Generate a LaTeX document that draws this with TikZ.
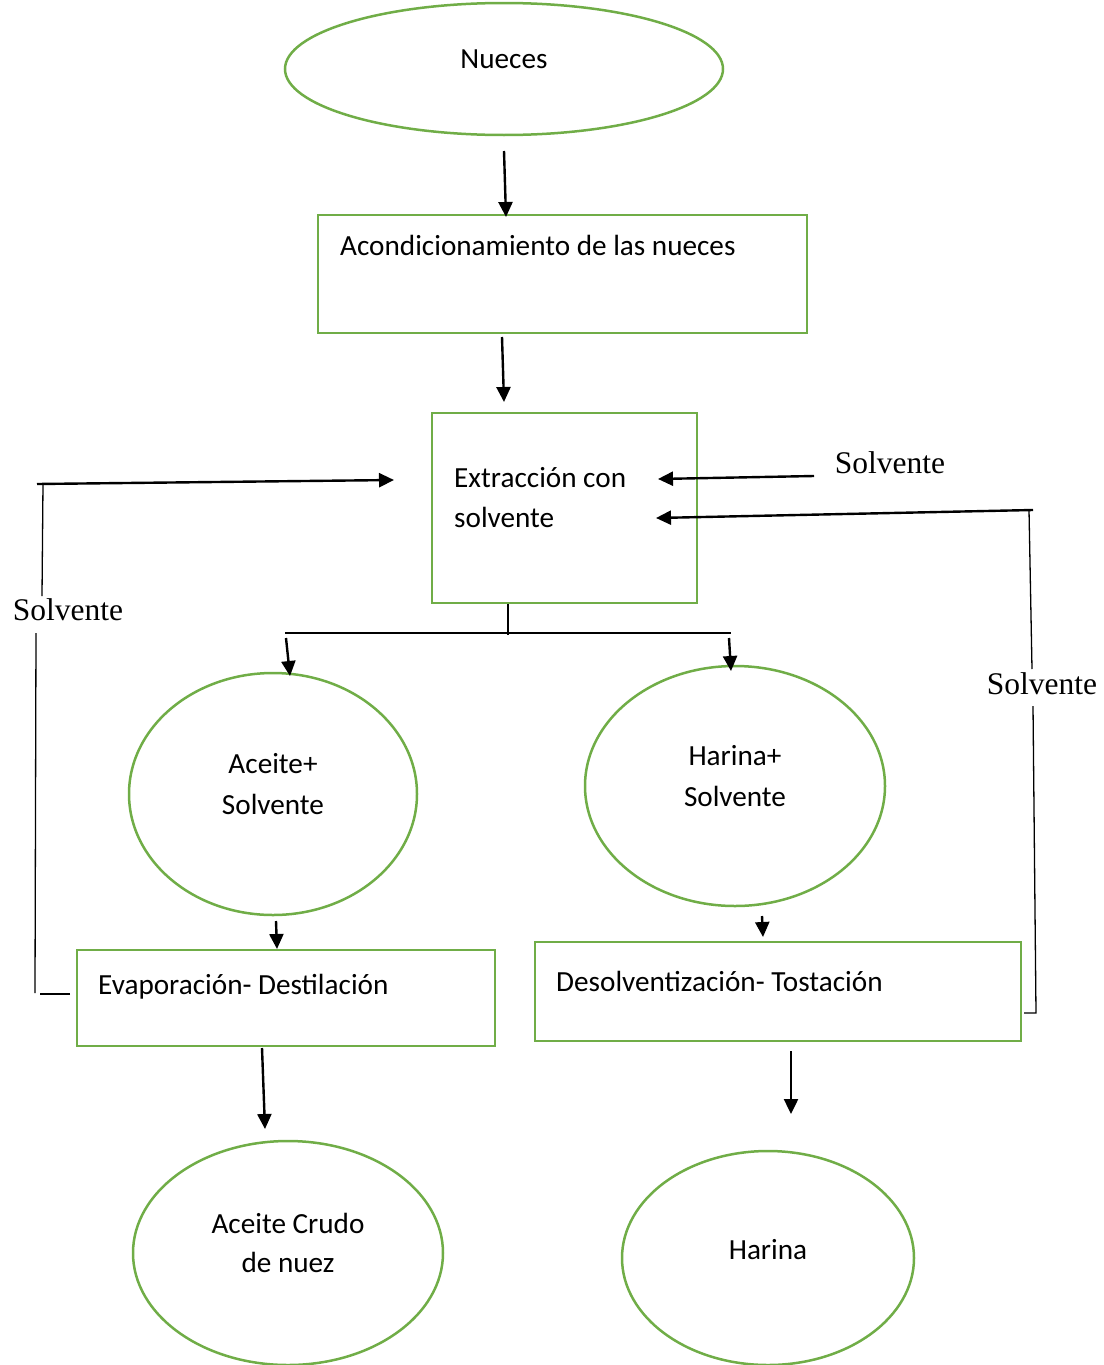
\documentclass[tikz,border=0pt]{standalone}
\usepackage{fontspec}
\setmainfont{Carlito}
\newfontfamily\serifl{Liberation Serif}
\usetikzlibrary{shapes.geometric,arrows.meta}
\definecolor{gr}{HTML}{70AD47}
\begin{document}
\begin{tikzpicture}[x=1pt,y=-1pt,
  box/.style={draw=gr,line width=2.5pt,rectangle,inner sep=0pt},
  ell/.style={draw=gr,line width=2.5pt,ellipse,inner sep=0pt},
  txt/.style={font=\fontsize{29.2}{34}\selectfont,inner sep=0pt},
  lbl/.style={font=\serifl\fontsize{31.5}{36}\selectfont,inner sep=0pt},
  arr/.style={line width=2.4pt,-{Triangle[length=15pt,width=14pt]}},
  thin/.style={line width=1.3pt}]
\useasboundingbox (0,0) rectangle (1103,1365);
% shapes
\node[ell,minimum width=438pt,minimum height=132pt] (nue) at (504,69) {};
\node[box,minimum width=489pt,minimum height=118pt] (aco) at (562.5,274) {};
\node[box,minimum width=265pt,minimum height=190pt] (ext) at (564.5,508) {};
\node[ell,minimum width=288pt,minimum height=242pt] (acs) at (273,794) {};
\node[ell,minimum width=300pt,minimum height=240pt] (has) at (735,786) {};
\node[box,minimum width=418pt,minimum height=96pt] (eva) at (286,998) {};
\node[box,minimum width=486pt,minimum height=99pt] (des) at (778,991.5) {};
\node[ell,minimum width=310pt,minimum height=224pt] (acr) at (288,1253) {};
\node[ell,minimum width=292pt,minimum height=214pt] (har) at (768,1258) {};
% texts
\node[txt] at (504,59) {Nueces};
\node[txt,anchor=west] at (340,245) {Acondicionamiento de las nueces};
\node[txt,anchor=west] at (454,478) {Extracción con};
\node[txt,anchor=west] at (454,517) {solvente};
\node[txt] at (273,764) {Aceite+};
\node[txt] at (273,804) {Solvente};
\node[txt] at (735,756) {Harina+};
\node[txt] at (735,796) {Solvente};
\node[txt,anchor=west] at (98,987) {Evaporación- Destilación};
\node[txt,anchor=west] at (556,981) {Desolventización- Tostación};
\node[txt] at (288,1223) {Aceite Crudo};
\node[txt] at (288,1262) {de nuez};
\node[txt] at (768,1250) {Harina};
% labels
\node[lbl] (s1) at (890,463) {Solvente};
\node[lbl] (s2) at (68,610) {Solvente};
\node[lbl] (s3) at (1042,684) {Solvente};
% main flow
\coordinate (a1) at (504,151); \coordinate (a2) at (506,217);
\draw[arr] (a1) -- (a2);
\coordinate (b1) at (502,337); \coordinate (b2) at (504,402);
\draw[arr] (b1) -- (b2);
\coordinate (sp0) at (508,604); \coordinate (sp1) at (508,635);
\coordinate (spl) at (285,633); \coordinate (spr) at (731,633);
\draw[thin] (sp0) -- (sp1);
\draw[thin] (spl) -- (spr);
\coordinate (c1) at (286,638); \coordinate (c2) at (290,676);
\draw[arr] (c1) -- (c2);
\coordinate (d1) at (729,638); \coordinate (d2) at (731,671);
\draw[arr] (d1) -- (d2);
\coordinate (e1) at (276,921); \coordinate (e2) at (277,949);
\draw[arr] (e1) -- (e2);
\coordinate (f1) at (762,916); \coordinate (f2) at (763,937);
\draw[arr] (f1) -- (f2);
\coordinate (g1) at (262,1048); \coordinate (g2) at (265,1129);
\draw[arr] (g1) -- (g2);
\coordinate (h1) at (791,1051); \coordinate (h2) at (791,1114);
\draw[arr] (h1) -- (h2);
% left recycle
\coordinate (l1) at (70,994); \coordinate (l2) at (40,994);
\coordinate (l3) at (35,993); \coordinate (l4) at (36,633);
\draw[thin] (l1) -- (l2);
\draw[thin] (l3) -- (l4);
\coordinate (l5) at (42,596); \coordinate (l6) at (43,484);
\draw[thin] (l5) -- (l6);
\coordinate (l7) at (37,484); \coordinate (l8) at (394,480);
\draw[arr] (l7) -- (l8);
% right solvent
\coordinate (r1) at (814,476); \coordinate (r2) at (658,479);
\draw[arr] (r1) -- (r2);
\coordinate (q1) at (1033,510); \coordinate (q2) at (656,518);
\draw[arr] (q1) -- (q2);
\coordinate (q3) at (1029,510); \coordinate (q4) at (1032,669);
\draw[thin] (q3) -- (q4);
\coordinate (q5) at (1033,706); \coordinate (q6) at (1036,1013); \coordinate (q7) at (1024,1013);
\draw[thin] (q5) -- (q6) -- (q7);
\end{tikzpicture}
\end{document}
